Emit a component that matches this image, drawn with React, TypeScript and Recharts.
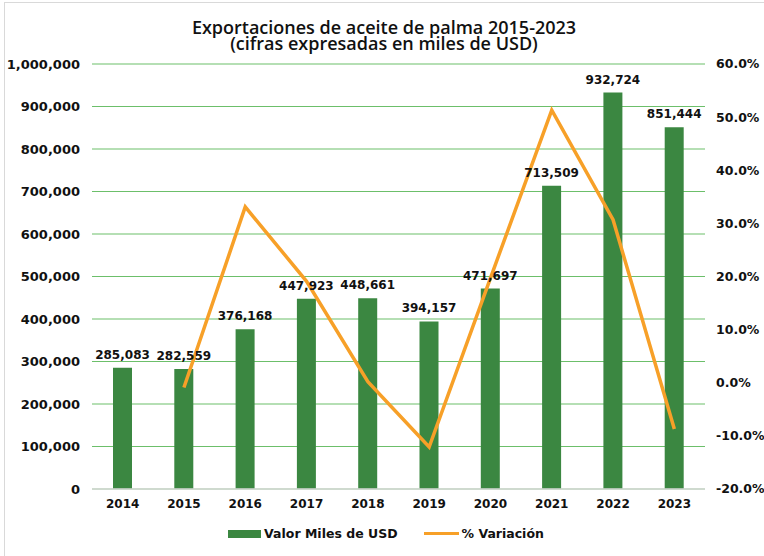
import { Bar, CartesianGrid, ComposedChart, LabelList, Legend, Line, XAxis, YAxis } from "recharts";

const years = ["2014", "2015", "2016", "2017", "2018", "2019", "2020", "2021", "2022", "2023"];
const valorMiles = [285083, 282559, 376168, 447923, 448661, 394157, 471697, 713509, 932724, 851444];
const variacion = [null, -0.9, 33.1, 19.1, 0.2, -12.1, 19.7, 51.3, 30.7, -8.7];

const leftTicks = [0, 100000, 200000, 300000, 400000, 500000, 600000, 700000, 800000, 900000, 1000000];
const rightTicks = [-20, -10, 0, 10, 20, 30, 40, 50, 60];

const BAR = "#3b8741";
const LINE = "#f7a028";
const GRID = "#6cbf6a";
const FONT = "'DejaVu Sans', sans-serif";

const rows = years.map((year, i) => ({
  year,
  valor: valorMiles[i],
  variacion: variacion[i],
}));

function fmtNum(v: number) {
  return v.toLocaleString("en-US");
}

const titleStyle: React.CSSProperties = {
  position: "absolute",
  left: 0,
  width: 768,
  textAlign: "center",
  fontFamily: "'Open Sans', sans-serif",
  fontWeight: 600,
  fontSize: 18,
  lineHeight: "16px",
  color: "#111",
  whiteSpace: "nowrap",
};

function LegendBox() {
  return (
    <div
      style={{
        display: "flex",
        justifyContent: "center",
        alignItems: "center",
        gap: 26,
        fontFamily: FONT,
        fontWeight: 700,
        fontSize: 12.5,
        color: "#111",
      }}
    >
      <div style={{ display: "flex", alignItems: "center", gap: 3 }}>
        <span style={{ width: 33, height: 8, background: BAR, display: "inline-block" }} />
        <span>Valor Miles de USD</span>
      </div>
      <div style={{ display: "flex", alignItems: "center", gap: 3 }}>
        <span style={{ width: 35, height: 3, background: LINE, display: "inline-block" }} />
        <span>% Variación</span>
      </div>
    </div>
  );
}

export default function App() {
  return (
    <div style={{ position: "absolute", left: 0, top: 0, width: 764, height: 556, background: "#fff", overflow: "hidden" }}>
      <div
        style={{
          position: "absolute",
          left: 4,
          top: 2,
          width: 800,
          height: 600,
          border: "1px solid #d9d9d9",
        }}
      />
      <div style={{ ...titleStyle, top: 19 }}>Exportaciones de aceite de palma 2015-2023</div>
      <div style={{ ...titleStyle, top: 35 }}>(cifras expresadas en miles de USD)</div>
      <ComposedChart
        width={764}
        height={556}
        data={rows}
        margin={{ top: 64, right: 0, bottom: 37, left: 0 }}
        style={{ position: "absolute", left: 0, top: 0 }}
      >
        <CartesianGrid yAxisId="left" vertical={false} stroke={GRID} strokeWidth={1.2} />
        <XAxis
          dataKey="year"
          height={30}
          tickLine={false}
          axisLine={{ stroke: "#d9d9d9", strokeWidth: 1.5 }}
          tick={{ fill: "#111", fontFamily: FONT, fontSize: 12, fontWeight: 700 }}
          tickMargin={4}
        />
        <YAxis
          yAxisId="left"
          width={92}
          domain={[0, 1000000]}
          ticks={leftTicks}
          interval={0}
          tickFormatter={fmtNum}
          axisLine={false}
          tickLine={false}
          tickMargin={6}
          tick={{ fill: "#111", fontFamily: FONT, fontSize: 13, fontWeight: 700 }}
        />
        <YAxis
          yAxisId="right"
          orientation="right"
          width={59}
          domain={[-20, 60]}
          ticks={rightTicks}
          interval={0}
          tickFormatter={(v: number) => `${v.toFixed(1)}%`}
          axisLine={false}
          tickLine={false}
          tickMargin={5}
          tick={{ fill: "#111", fontFamily: FONT, fontSize: 12.5, fontWeight: 700 }}
        />
        <Bar yAxisId="left" dataKey="valor" name="Valor Miles de USD" fill={BAR} barSize={19} isAnimationActive={false}>
          <LabelList
            dataKey="valor"
            position="top"
            offset={9}
            formatter={(v: number) => fmtNum(Number(v))}
            style={{ fill: "#111", fontFamily: FONT, fontSize: 12, fontWeight: 700 }}
          />
        </Bar>
        <Line
          yAxisId="right"
          dataKey="variacion"
          name="% Variación"
          type="linear"
          stroke={LINE}
          strokeWidth={3.5}
          dot={false}
          activeDot={false}
          connectNulls={false}
          isAnimationActive={false}
        />
        <Legend
          verticalAlign="middle"
          align="center"
          layout="horizontal"
          content={() => <LegendBox />}
          wrapperStyle={{ top: 526, left: 4, width: 764 }}
        />
      </ComposedChart>
    </div>
  );
}
